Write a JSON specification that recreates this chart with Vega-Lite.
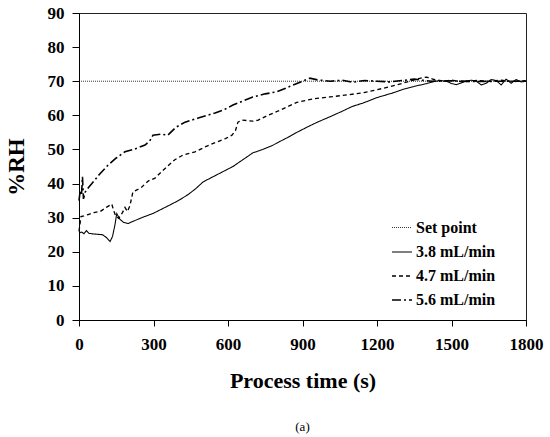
{
  "$schema": "https://vega.github.io/schema/vega-lite/v6.json",
  "width": 447,
  "height": 307,
  "autosize": "none",
  "padding": {"left": 79, "top": 13, "right": 24, "bottom": 117},
  "background": "white",
  "view": {"stroke": "#222", "strokeWidth": 1},
  "title": {"text": "(a)", "orient": "bottom", "font": "Liberation Serif", "fontSize": 13, "fontWeight": "normal", "color": "#000", "offset": 30},
  "config": {
    "font": "Liberation Serif",
    "axis": {"grid": false, "domainColor": "#000", "tickColor": "#000", "labelColor": "#000", "titleColor": "#000", "labelFont": "Liberation Serif", "labelFontWeight": "bold", "labelFontSize": 17, "titleFont": "Liberation Serif", "titleFontWeight": "bold"},
    "legend": {"labelFont": "Liberation Serif", "labelFontWeight": "bold"}
  },
  "datasets": {
    "rh": [
      {"s": "Set point", "t": 0, "v": 70}, {"s": "Set point", "t": 1800, "v": 70},
      {"s": "3.8 mL/min", "t": 0, "v": 25.5}, {"s": "3.8 mL/min", "t": 10, "v": 25.8}, {"s": "3.8 mL/min", "t": 20, "v": 25.3}, {"s": "3.8 mL/min", "t": 30, "v": 26.2}, {"s": "3.8 mL/min", "t": 40, "v": 25.4}, {"s": "3.8 mL/min", "t": 60, "v": 25.2}, {"s": "3.8 mL/min", "t": 80, "v": 25.1}, {"s": "3.8 mL/min", "t": 95, "v": 25.0}, {"s": "3.8 mL/min", "t": 110, "v": 24.2}, {"s": "3.8 mL/min", "t": 125, "v": 23.0}, {"s": "3.8 mL/min", "t": 135, "v": 24.5}, {"s": "3.8 mL/min", "t": 145, "v": 28}, {"s": "3.8 mL/min", "t": 152, "v": 31.2}, {"s": "3.8 mL/min", "t": 165, "v": 29.5}, {"s": "3.8 mL/min", "t": 180, "v": 28.6}, {"s": "3.8 mL/min", "t": 198, "v": 28.3}, {"s": "3.8 mL/min", "t": 220, "v": 29}, {"s": "3.8 mL/min", "t": 260, "v": 30.2}, {"s": "3.8 mL/min", "t": 300, "v": 31.3}, {"s": "3.8 mL/min", "t": 330, "v": 32.4}, {"s": "3.8 mL/min", "t": 360, "v": 33.5}, {"s": "3.8 mL/min", "t": 400, "v": 35}, {"s": "3.8 mL/min", "t": 440, "v": 36.8}, {"s": "3.8 mL/min", "t": 470, "v": 38.5}, {"s": "3.8 mL/min", "t": 500, "v": 40.5}, {"s": "3.8 mL/min", "t": 540, "v": 42}, {"s": "3.8 mL/min", "t": 580, "v": 43.5}, {"s": "3.8 mL/min", "t": 620, "v": 45}, {"s": "3.8 mL/min", "t": 660, "v": 47}, {"s": "3.8 mL/min", "t": 700, "v": 49}, {"s": "3.8 mL/min", "t": 740, "v": 50}, {"s": "3.8 mL/min", "t": 780, "v": 51.2}, {"s": "3.8 mL/min", "t": 800, "v": 52}, {"s": "3.8 mL/min", "t": 840, "v": 53.5}, {"s": "3.8 mL/min", "t": 877, "v": 55}, {"s": "3.8 mL/min", "t": 920, "v": 56.6}, {"s": "3.8 mL/min", "t": 960, "v": 58}, {"s": "3.8 mL/min", "t": 1011, "v": 59.6}, {"s": "3.8 mL/min", "t": 1060, "v": 61.2}, {"s": "3.8 mL/min", "t": 1100, "v": 62.6}, {"s": "3.8 mL/min", "t": 1144, "v": 63.6}, {"s": "3.8 mL/min", "t": 1200, "v": 65.2}, {"s": "3.8 mL/min", "t": 1265, "v": 66.6}, {"s": "3.8 mL/min", "t": 1300, "v": 67.5}, {"s": "3.8 mL/min", "t": 1350, "v": 68.5}, {"s": "3.8 mL/min", "t": 1400, "v": 69.3}, {"s": "3.8 mL/min", "t": 1425, "v": 69.8}, {"s": "3.8 mL/min", "t": 1450, "v": 70.2}, {"s": "3.8 mL/min", "t": 1480, "v": 70}, {"s": "3.8 mL/min", "t": 1500, "v": 69.3}, {"s": "3.8 mL/min", "t": 1520, "v": 69.0}, {"s": "3.8 mL/min", "t": 1540, "v": 69.5}, {"s": "3.8 mL/min", "t": 1560, "v": 70.1}, {"s": "3.8 mL/min", "t": 1580, "v": 70.3}, {"s": "3.8 mL/min", "t": 1600, "v": 70}, {"s": "3.8 mL/min", "t": 1620, "v": 68.9}, {"s": "3.8 mL/min", "t": 1640, "v": 69.4}, {"s": "3.8 mL/min", "t": 1660, "v": 70.5}, {"s": "3.8 mL/min", "t": 1680, "v": 70.2}, {"s": "3.8 mL/min", "t": 1700, "v": 68.9}, {"s": "3.8 mL/min", "t": 1720, "v": 70.6}, {"s": "3.8 mL/min", "t": 1740, "v": 69.4}, {"s": "3.8 mL/min", "t": 1760, "v": 70.5}, {"s": "3.8 mL/min", "t": 1780, "v": 69.8}, {"s": "3.8 mL/min", "t": 1800, "v": 70},
      {"s": "4.7 mL/min", "t": 0, "v": 26}, {"s": "4.7 mL/min", "t": 8, "v": 30.3}, {"s": "4.7 mL/min", "t": 20, "v": 30.5}, {"s": "4.7 mL/min", "t": 40, "v": 31}, {"s": "4.7 mL/min", "t": 60, "v": 31.5}, {"s": "4.7 mL/min", "t": 85, "v": 31.8}, {"s": "4.7 mL/min", "t": 110, "v": 33}, {"s": "4.7 mL/min", "t": 132, "v": 34}, {"s": "4.7 mL/min", "t": 140, "v": 32}, {"s": "4.7 mL/min", "t": 148, "v": 30.5}, {"s": "4.7 mL/min", "t": 160, "v": 29.8}, {"s": "4.7 mL/min", "t": 175, "v": 31.5}, {"s": "4.7 mL/min", "t": 185, "v": 33}, {"s": "4.7 mL/min", "t": 195, "v": 31.8}, {"s": "4.7 mL/min", "t": 205, "v": 33.5}, {"s": "4.7 mL/min", "t": 217, "v": 37.5}, {"s": "4.7 mL/min", "t": 235, "v": 38.2}, {"s": "4.7 mL/min", "t": 253, "v": 39}, {"s": "4.7 mL/min", "t": 280, "v": 40.8}, {"s": "4.7 mL/min", "t": 306, "v": 41.6}, {"s": "4.7 mL/min", "t": 340, "v": 44}, {"s": "4.7 mL/min", "t": 386, "v": 47}, {"s": "4.7 mL/min", "t": 420, "v": 48.4}, {"s": "4.7 mL/min", "t": 467, "v": 49.3}, {"s": "4.7 mL/min", "t": 510, "v": 50.8}, {"s": "4.7 mL/min", "t": 548, "v": 52}, {"s": "4.7 mL/min", "t": 590, "v": 53.2}, {"s": "4.7 mL/min", "t": 616, "v": 54.2}, {"s": "4.7 mL/min", "t": 630, "v": 55.5}, {"s": "4.7 mL/min", "t": 640, "v": 58}, {"s": "4.7 mL/min", "t": 656, "v": 58.6}, {"s": "4.7 mL/min", "t": 700, "v": 58.3}, {"s": "4.7 mL/min", "t": 722, "v": 58.6}, {"s": "4.7 mL/min", "t": 760, "v": 60}, {"s": "4.7 mL/min", "t": 800, "v": 61.2}, {"s": "4.7 mL/min", "t": 877, "v": 63.8}, {"s": "4.7 mL/min", "t": 940, "v": 64.8}, {"s": "4.7 mL/min", "t": 1011, "v": 65.4}, {"s": "4.7 mL/min", "t": 1080, "v": 66}, {"s": "4.7 mL/min", "t": 1144, "v": 66.6}, {"s": "4.7 mL/min", "t": 1200, "v": 67.5}, {"s": "4.7 mL/min", "t": 1280, "v": 68.9}, {"s": "4.7 mL/min", "t": 1340, "v": 70.2}, {"s": "4.7 mL/min", "t": 1380, "v": 71}, {"s": "4.7 mL/min", "t": 1400, "v": 71.2}, {"s": "4.7 mL/min", "t": 1430, "v": 70.5}, {"s": "4.7 mL/min", "t": 1470, "v": 70}, {"s": "4.7 mL/min", "t": 1500, "v": 70.3}, {"s": "4.7 mL/min", "t": 1550, "v": 69.8}, {"s": "4.7 mL/min", "t": 1600, "v": 70.2}, {"s": "4.7 mL/min", "t": 1650, "v": 70}, {"s": "4.7 mL/min", "t": 1700, "v": 70.3}, {"s": "4.7 mL/min", "t": 1750, "v": 69.9}, {"s": "4.7 mL/min", "t": 1800, "v": 70.2},
      {"s": "5.6 mL/min", "t": 0, "v": 35}, {"s": "5.6 mL/min", "t": 5, "v": 38}, {"s": "5.6 mL/min", "t": 10, "v": 36.5}, {"s": "5.6 mL/min", "t": 14, "v": 42}, {"s": "5.6 mL/min", "t": 18, "v": 35.5}, {"s": "5.6 mL/min", "t": 25, "v": 37.5}, {"s": "5.6 mL/min", "t": 40, "v": 39}, {"s": "5.6 mL/min", "t": 52, "v": 40}, {"s": "5.6 mL/min", "t": 80, "v": 42.5}, {"s": "5.6 mL/min", "t": 117, "v": 45.4}, {"s": "5.6 mL/min", "t": 150, "v": 47.5}, {"s": "5.6 mL/min", "t": 185, "v": 49.3}, {"s": "5.6 mL/min", "t": 220, "v": 50}, {"s": "5.6 mL/min", "t": 266, "v": 51.3}, {"s": "5.6 mL/min", "t": 285, "v": 52.5}, {"s": "5.6 mL/min", "t": 298, "v": 54.2}, {"s": "5.6 mL/min", "t": 330, "v": 54.5}, {"s": "5.6 mL/min", "t": 358, "v": 54.2}, {"s": "5.6 mL/min", "t": 390, "v": 56.5}, {"s": "5.6 mL/min", "t": 427, "v": 58}, {"s": "5.6 mL/min", "t": 480, "v": 59.2}, {"s": "5.6 mL/min", "t": 548, "v": 60.7}, {"s": "5.6 mL/min", "t": 580, "v": 61.5}, {"s": "5.6 mL/min", "t": 620, "v": 63}, {"s": "5.6 mL/min", "t": 660, "v": 64.2}, {"s": "5.6 mL/min", "t": 700, "v": 65.4}, {"s": "5.6 mL/min", "t": 750, "v": 66.3}, {"s": "5.6 mL/min", "t": 797, "v": 66.9}, {"s": "5.6 mL/min", "t": 850, "v": 68.5}, {"s": "5.6 mL/min", "t": 900, "v": 70}, {"s": "5.6 mL/min", "t": 930, "v": 70.9}, {"s": "5.6 mL/min", "t": 960, "v": 70.4}, {"s": "5.6 mL/min", "t": 1011, "v": 70}, {"s": "5.6 mL/min", "t": 1060, "v": 70.3}, {"s": "5.6 mL/min", "t": 1100, "v": 69.7}, {"s": "5.6 mL/min", "t": 1150, "v": 70.2}, {"s": "5.6 mL/min", "t": 1200, "v": 70}, {"s": "5.6 mL/min", "t": 1250, "v": 69.8}, {"s": "5.6 mL/min", "t": 1300, "v": 70.2}, {"s": "5.6 mL/min", "t": 1350, "v": 70.6}, {"s": "5.6 mL/min", "t": 1380, "v": 70.3}, {"s": "5.6 mL/min", "t": 1420, "v": 70}, {"s": "5.6 mL/min", "t": 1500, "v": 70.1}, {"s": "5.6 mL/min", "t": 1600, "v": 69.9}, {"s": "5.6 mL/min", "t": 1700, "v": 70}, {"s": "5.6 mL/min", "t": 1800, "v": 70}
    ]
  },
  "data": {"name": "rh"},
  "mark": {"type": "line", "color": "#000", "strokeCap": "butt"},
  "encoding": {
    "x": {"field": "t", "type": "quantitative", "scale": {"domain": [0, 1800], "nice": false}, "axis": {"values": [0, 300, 600, 900, 1200, 1500, 1800], "format": "d", "title": "Process time (s)", "titleFontSize": 22, "titlePadding": 18, "tickSize": 6, "labelPadding": 10, "labelFlush": false, "labelFont": "Liberation Serif", "labelFontWeight": "bold", "labelFontSize": 17}},
    "y": {"field": "v", "type": "quantitative", "scale": {"domain": [0, 90], "nice": false}, "axis": {"values": [0, 10, 20, 30, 40, 50, 60, 70, 80, 90], "format": "d", "title": "%RH", "titleFontSize": 23, "titlePadding": 19, "tickSize": 7, "labelPadding": 8, "labelFont": "Liberation Serif", "labelFontWeight": "bold", "labelFontSize": 17}},
    "strokeDash": {"field": "s", "type": "nominal", "scale": {"domain": ["Set point", "3.8 mL/min", "4.7 mL/min", "5.6 mL/min"], "range": [[1, 1], [1, 0], [4, 3], [9, 3, 2, 3]]}, "legend": {"title": null, "orient": "none", "legendX": 312, "legendY": 204, "symbolType": "stroke", "symbolSize": 400, "symbolStrokeColor": "#000", "labelFont": "Liberation Serif", "labelFontWeight": "bold", "labelFontSize": 16, "labelColor": "#000", "rowPadding": 5, "labelOffset": 3}},
    "strokeWidth": {"field": "s", "type": "nominal", "scale": {"domain": ["Set point", "3.8 mL/min", "4.7 mL/min", "5.6 mL/min"], "range": [0.8, 1.6, 1.6, 1.6]}}
  }
}
